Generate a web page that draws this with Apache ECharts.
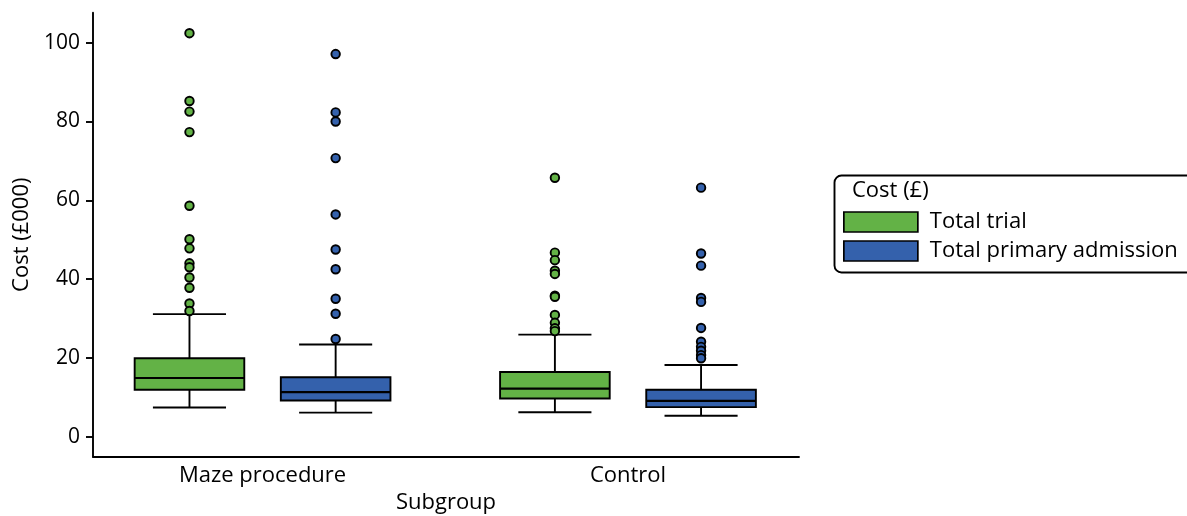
<!DOCTYPE html>
<html>
<head>
<meta charset="utf-8">
<script src="https://cdn.jsdelivr.net/npm/echarts@6/dist/echarts.min.js"></script>
<style>
html,body{margin:0;padding:0;background:#fff;}
#chart{width:1187px;height:516px;}
</style>
</head>
<body>
<div id="chart"></div>
<script>
// ---- data ----
const categories = ['Maze procedure', 'Control'];
const seriesNames = ['Total trial', 'Total primary admission'];
const yTicks = [0, 20, 40, 60, 80, 100];
// [min, Q1, median, Q3, max] per category
const trialBox = [
  [7.4, 11.9, 14.9, 19.9, 31.1],
  [6.2, 9.7, 12.2, 16.4, 25.9]
];
const primaryBox = [
  [6.1, 9.2, 11.3, 15.1, 23.4],
  [5.3, 7.5, 9.1, 11.9, 18.2]
];
const trialOutliers = [
  [102.4, 85.2, 82.5, 77.3, 58.6, 50.1, 47.8, 44.0, 43.0, 40.4, 37.8, 33.8, 31.9],
  [65.7, 46.7, 44.8, 42.1, 41.3, 35.8, 35.5, 30.9, 28.9, 27.5, 26.8]
];
const primaryOutliers = [
  [97.1, 82.3, 80.0, 70.7, 56.4, 47.5, 42.5, 35.0, 31.2, 24.8],
  [63.2, 46.5, 43.4, 35.2, 34.2, 27.6, 24.1, 22.8, 21.8, 20.7, 19.9]
];

// ---- styling / layout ----
const colors = ['#63b246', '#3461ac'];
const FONT = '"Open Sans", "Noto Sans", sans-serif';
const TXT = 22;
const LW = 1.9;
const offsets = [-0.2, 0.2];
const boxHalf = 0.15;
const capHalf = 0.1;

function boxData(boxes, s) {
  return boxes.map((b, i) => [i + 1 + offsets[s]].concat(b));
}
function outlierData(outs, s) {
  const res = [];
  outs.forEach((arr, i) => arr.forEach(v => res.push([i + 1 + offsets[s], v])));
  return res;
}

function renderBox(params, api) {
  const x = api.value(0);
  const mn = api.value(1), q1 = api.value(2), md = api.value(3), q3 = api.value(4), mx = api.value(5);
  const pMin = api.coord([x, mn]), pQ1 = api.coord([x, q1]), pMd = api.coord([x, md]);
  const pQ3 = api.coord([x, q3]), pMax = api.coord([x, mx]);
  const bw = api.size([boxHalf, 0])[0];
  const cw = api.size([capHalf, 0])[0];
  const cx = pMd[0];
  const lineStyle = { stroke: '#000', lineWidth: LW };
  return {
    type: 'group',
    children: [
      { type: 'line', shape: { x1: cx, y1: pMax[1], x2: cx, y2: pQ3[1] }, style: lineStyle },
      { type: 'line', shape: { x1: cx, y1: pQ1[1], x2: cx, y2: pMin[1] }, style: lineStyle },
      { type: 'line', shape: { x1: cx - cw, y1: pMax[1], x2: cx + cw, y2: pMax[1] }, style: lineStyle },
      { type: 'line', shape: { x1: cx - cw, y1: pMin[1], x2: cx + cw, y2: pMin[1] }, style: lineStyle },
      { type: 'rect', shape: { x: cx - bw, y: pQ3[1], width: 2 * bw, height: pQ1[1] - pQ3[1] },
        style: { fill: api.visual('color'), stroke: '#000', lineWidth: LW } },
      { type: 'line', shape: { x1: cx - bw, y1: pMd[1], x2: cx + bw, y2: pMd[1] }, style: { stroke: '#000', lineWidth: 2.1 } }
    ]
  };
}

const chart = echarts.init(document.getElementById('chart'), null, { renderer: 'canvas' });

const boxSets = [trialBox, primaryBox];
const outSets = [trialOutliers, primaryOutliers];
const series = [];
seriesNames.forEach((name, s) => {
  series.push({
    name: name,
    type: 'custom',
    renderItem: renderBox,
    itemStyle: { color: colors[s], borderColor: '#000', borderWidth: 1.5 },
    encode: { x: 0, y: [1, 2, 3, 4, 5] },
    data: boxData(boxSets[s], s),
    z: 2
  });
});
seriesNames.forEach((name, s) => {
  series.push({
    name: name,
    type: 'scatter',
    symbol: 'circle',
    symbolSize: 8.5,
    itemStyle: { color: colors[s], borderColor: '#000', borderWidth: 1.9, opacity: 1 },
    data: outlierData(outSets[s], s),
    z: 3
  });
});

const option = {
  animation: false,
  backgroundColor: '#fff',
  textStyle: { fontFamily: FONT, color: '#000' },
  grid: { left: 93, right: 388, top: 12.7, bottom: 59.3, containLabel: false, outerBoundsMode: 'none' },
  xAxis: {
    type: 'value',
    min: 0.536,
    max: 2.468,
    name: 'Subgroup',
    nameLocation: 'middle',
    nameGap: 34,
    nameTextStyle: { fontSize: TXT, color: '#000', fontFamily: FONT },
    axisLine: { show: true, onZero: false, lineStyle: { color: '#000', width: LW } },
    axisTick: { show: false },
    splitLine: { show: false },
    axisLabel: {
      customValues: [1, 2],
      formatter: v => categories[Math.round(v) - 1] || '',
      fontSize: TXT, color: '#000', fontFamily: FONT, margin: 8
    }
  },
  yAxis: {
    type: 'value',
    min: -5.08,
    max: 107.6,
    name: 'Cost (£000)',
    nameLocation: 'middle',
    nameGap: 58,
    nameTextStyle: { fontSize: TXT, color: '#000', fontFamily: FONT },
    axisLine: { show: true, onZero: false, lineStyle: { color: '#000', width: LW } },
    axisTick: { show: true, customValues: yTicks, length: 7, lineStyle: { color: '#000', width: LW } },
    splitLine: { show: false },
    axisLabel: {
      customValues: yTicks,
      fontSize: 21, color: '#000', fontFamily: FONT, margin: 13
    }
  },
  legend: {
    show: true,
    orient: 'vertical',
    left: 843,
    top: 211,
    itemWidth: 74,
    itemHeight: 20,
    itemGap: 7,
    padding: 0,
    data: seriesNames.map((n, s) => ({
      name: n,
      icon: 'rect',
      itemStyle: { color: colors[s], borderColor: '#000', borderWidth: 1.7 }
    })),
    textStyle: { fontSize: TXT, color: '#000', fontFamily: FONT, padding: [0, 0, 0, 7] },
    selectedMode: false
  },
  graphic: [
    {
      type: 'rect',
      left: 832, top: 173,
      shape: { width: 380, height: 97, r: 7 },
      style: { fill: 'none', stroke: '#000', lineWidth: LW },
      silent: true
    },
    {
      type: 'text',
      left: 852, top: 180,
      style: { text: 'Cost (£)', fontSize: TXT, fill: '#000', fontFamily: FONT },
      silent: true
    }
  ],
  series: series
};
chart.setOption(option);
</script>
</body>
</html>
